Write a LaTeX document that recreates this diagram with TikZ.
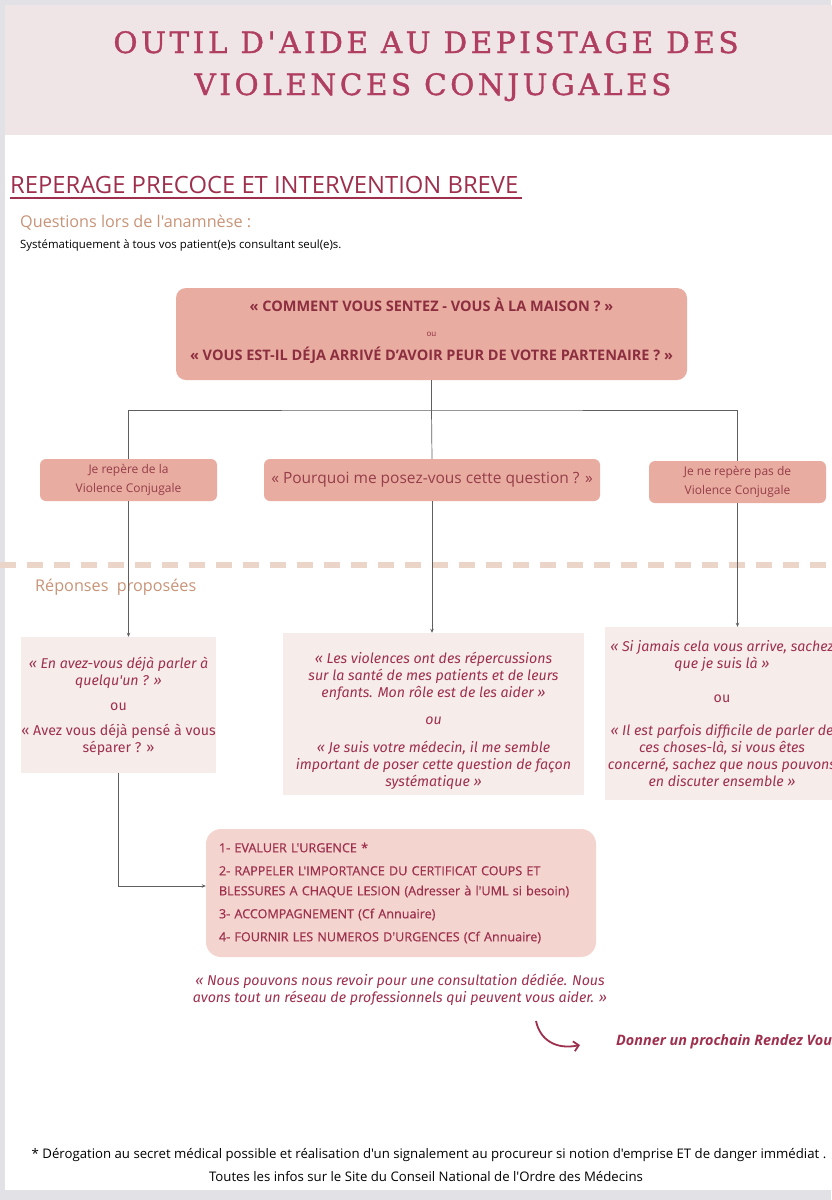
\documentclass[tikz,border=0pt]{standalone}
\usepackage{fontspec}
\setmainfont{Open Sans}
\newfontfamily\titlefont[LetterSpace=12,FakeBold=1.2]{DejaVu Serif}
\newfontfamily\condfont{Open Sans}
\newfontfamily\medfont[FakeBold=0.6]{Open Sans}
\newfontfamily\quotefont{Fira Sans}
\usetikzlibrary{arrows.meta}
\definecolor{framec}{RGB}{226,226,230}
\definecolor{band}{RGB}{239,228,230}
\definecolor{titlec}{RGB}{176,62,96}
\definecolor{crim}{RGB}{158,48,78}
\definecolor{dcrim}{RGB}{140,46,64}
\definecolor{boxc}{RGB}{150,62,74}
\definecolor{salmon}{RGB}{232,172,160}
\definecolor{pale}{RGB}{246,237,235}
\definecolor{pinkc}{RGB}{243,212,206}
\definecolor{tanc}{RGB}{200,148,120}
\definecolor{dashc}{RGB}{235,212,200}
\definecolor{linec}{RGB}{95,95,95}
\tikzset{
  qbox/.style={fill=salmon, rounded corners=6pt, inner sep=0pt, align=center, text=boxc},
  rbox/.style={fill=pale, inner sep=0pt, align=center, text=crim},
  conn/.style={draw=linec, line width=0.7pt},
  arr/.style={conn, -{Stealth[length=4pt,width=3.5pt]}},
}
\begin{document}
\begin{tikzpicture}[x=1pt,y=-1pt]
\useasboundingbox (0,0) rectangle (831,1200);
\fill[framec] (0,0) rectangle (831,1200);
\fill[white] (5,5) rectangle (840,1190);
\fill[band] (5,5) rectangle (840,135);
% title
\node[font=\titlefont\fontsize{29.5}{34}\selectfont, text=titlec, anchor=base, inner sep=0pt] (t1) at (426,53) {OUTIL D'AIDE AU DEPISTAGE DES};
\node[font=\titlefont\fontsize{29.5}{34}\selectfont, text=titlec, anchor=base, inner sep=0pt] (t2) at (433,95) {VIOLENCES CONJUGALES};
% section header
\node[font=\condfont\fontsize{23.8}{26}\selectfont, text=crim, anchor=base west, inner sep=0pt] (sec) at (10,193) {REPERAGE PRECOCE ET INTERVENTION BREVE};
\draw[crim, line width=1.4pt] (10,198) -- (522,198);
\node[font=\condfont\fontsize{16.2}{20}\selectfont, text=tanc, anchor=base west, inner sep=0pt] (qa) at (20,227) {Questions lors de l'anamnèse :};
\node[font=\condfont\fontsize{11.4}{13}\selectfont, text=black, anchor=base west, inner sep=0pt] (sys) at (20,248) {Systématiquement à tous vos patient(e)s consultant seul(e)s.};
% dashed separator
\draw[dashc, line width=6pt, dash pattern=on 16pt off 11pt] (0,565) -- (831,565);
\node[font=\fontsize{16.2}{18}\selectfont, text=tanc, anchor=base west, inner sep=0pt] (rep) at (35,591) {Réponses~ proposées};
% connectors (behind boxes)
\coordinate (hub) at (431.5,410);
% top box
\node[qbox, rounded corners=10pt, minimum width=511pt, minimum height=92pt, text=dcrim, font=\bfseries\fontsize{14.5}{24.5}\selectfont] (top) at (431.5,334)
 {« COMMENT VOUS SENTEZ - VOUS À LA MAISON ? »\\
  {\mdseries\fontsize{8}{24.5}\selectfont ou}\\
  « VOUS EST-IL DÉJA ARRIVÉ D'AVOIR PEUR DE VOTRE PARTENAIRE ? »\rule[-9pt]{0pt}{1pt}};
\node[qbox, minimum width=177pt, minimum height=42pt, font=\fontsize{12}{19}\selectfont] (L) at (128.5,480)
 {Je repère de la\\Violence Conjugale};
\node[qbox, minimum width=336pt, minimum height=42pt, font=\fontsize{15.5}{17}\selectfont] (C) at (432,480)
 {« Pourquoi me posez-vous cette question ? »};
\node[qbox, minimum width=177pt, minimum height=42pt, font=\fontsize{12}{19}\selectfont] (R) at (737.5,482)
 {Je ne repère pas de\\Violence Conjugale};
\draw[conn] (top.south) -- (hub);
\draw[conn] (L.north) |- (hub) -| (R.north);
\draw[conn] (hub) -- (C.north);
% response boxes
\node[rbox, minimum width=195pt, minimum height=136pt, font=\quotefont\fontsize{14.2}{17}\selectfont] (RL) at (118.5,705)
 {\itshape\rule{0pt}{14pt}« En avez-vous déjà parler à\\ \itshape quelqu'un ? »\\[8pt]
  ou\\[8pt]
  « Avez vous déjà pensé à vous\\ séparer ? »};
\node[rbox, minimum width=301pt, minimum height=162pt, font=\quotefont\itshape\fontsize{14.2}{17.3}\selectfont] (RC) at (433.5,714)
 {\rule{0pt}{25pt}« Les violences ont des répercussions\\ sur la santé de mes patients et de leurs\\ enfants. Mon rôle est de les aider »\\[10pt]
  ou\\[10pt]
  « Je suis votre médecin, il me semble\\ important de poser cette question de façon\\ systématique »};
\node[rbox, minimum width=234pt, minimum height=173pt, font=\quotefont\fontsize{14.2}{17}\selectfont] (RR) at (722,713.5)
 {\itshape « Si jamais cela vous arrive, sachez\\ \itshape que je suis là »\\[17pt]
  ou\\[16pt]
  \itshape « Il est parfois difficile de parler de\\ \itshape ces choses-là, si vous êtes\\ \itshape concerné, sachez que nous pouvons\\ \itshape en discuter ensemble »};
\draw[arr] (L.south) -- (L.south |- RL.north);
\draw[arr] (C.south) -- (C.south |- RC.north);
\draw[arr] (R.south) -- (R.south |- RR.north);
% bottom box
\node[fill=pinkc, rounded corners=15pt, minimum width=390pt, minimum height=128pt, inner xsep=13pt, inner ysep=0pt, text width=364pt, align=left, text=crim, font=\medfont\fontsize{12.6}{23}\selectfont] (B) at (401,893)
 {1- EVALUER L'URGENCE *\\
  2- RAPPELER L'IMPORTANCE DU CERTIFICAT COUPS ET\\[-3pt]
  BLESSURES A CHAQUE LESION (Adresser à l'UML si besoin)\\
  3- ACCOMPAGNEMENT (Cf Annuaire)\\
  4- FOURNIR LES NUMEROS D'URGENCES (Cf Annuaire)};
\draw[arr] (RL.south) |- ([yshift=7pt]B.west);
% closing quote
\node[font=\quotefont\itshape\fontsize{14.2}{17}\selectfont, text=crim, align=center, inner sep=0pt] (nous) at (400,990)
 {« Nous pouvons nous revoir pour une consultation dédiée. Nous\\ avons tout un réseau de professionnels qui peuvent vous aider. »};
\coordinate (cs) at (536,1021);
\node[font=\condfont\bfseries\itshape\fontsize{14.4}{16}\selectfont, text=crim, anchor=base west, inner sep=0pt] (rdv) at (616,1045) {Donner un prochain Rendez Vous};
\draw[crim, line width=1.8pt, -{Straight Barb[length=5pt,width=10pt]}] (cs) .. controls (540,1040) and (556,1050) .. ([xshift=-36pt]rdv.base west);
% footer
\node[font=\condfont\fontsize{13.2}{15}\selectfont, text=black, anchor=base, inner sep=0pt] (f1) at (429,1158) {* Dérogation au secret médical possible et réalisation d'un signalement au procureur si notion d'emprise ET de danger immédiat .};
\node[font=\condfont\fontsize{13.2}{15}\selectfont, text=black, anchor=base, inner sep=0pt] (f2) at (426,1181) {Toutes les infos sur le Site du Conseil National de l'Ordre des Médecins};
\end{tikzpicture}
\end{document}
